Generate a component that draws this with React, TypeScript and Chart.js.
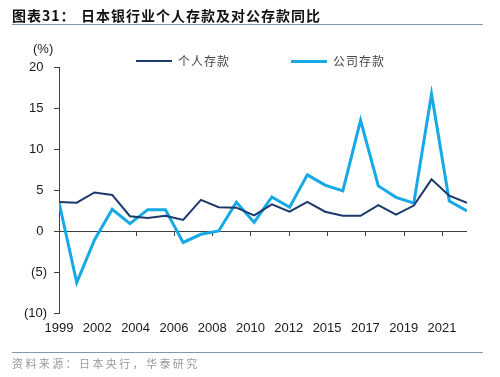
import React, { useEffect, useRef } from "react";
import { Chart, registerables } from "chart.js";

Chart.register(...registerables);

const years = ["1999","2000","2001","2002","2003","2004","2005","2006","2007","2008","2009","2010","2011","2012","2013","2014","2015","2016","2017","2018","2019","2020","2021","2022"];
const personal = [3.55, 3.45, 4.7, 4.4, 1.8, 1.6, 1.85, 1.35, 3.8, 2.9, 2.85, 1.9, 3.25, 2.35, 3.55, 2.35, 1.85, 1.85, 3.15, 2.0, 3.1, 6.3, 4.3, 3.45];
const corporate = [3.5, -6.3, -1.1, 2.65, 0.9, 2.6, 2.6, -1.4, -0.4, 0.0, 3.5, 1.05, 4.15, 2.9, 6.85, 5.6, 4.9, 13.5, 5.5, 4.1, 3.4, 16.7, 3.65, 2.45];
const xTickLabels = ["1999","2002","2004","2006","2008","2010","2012","2015","2017","2019","2021"];
const seriesNames = ["个人存款", "公司存款"];
const colors = ["#1b3a6b", "#15a9e6"];

const TICK_STEP = 2.159;
const AXIS_COLOR = "#404040";

const zeroAxisPlugin = {
  id: "zeroAxis",
  beforeDatasetsDraw(chart: any) {
    const { ctx, chartArea, scales } = chart;
    const y0 = scales.y.getPixelForValue(0);
    ctx.save();
    ctx.strokeStyle = AXIS_COLOR;
    ctx.lineWidth = 1;
    ctx.beginPath();
    ctx.moveTo(chartArea.left, y0 + 0.5);
    ctx.lineTo(chartArea.right, y0 + 0.5);
    scales.x.ticks.forEach((t: any) => {
      const px = Math.round(scales.x.getPixelForValue(t.value)) + 0.5;
      ctx.moveTo(px, y0);
      ctx.lineTo(px, y0 + 5);
    });
    ctx.stroke();
    ctx.restore();
  },
};

function ChartCanvas() {
  const ref = useRef<HTMLCanvasElement | null>(null);
  useEffect(() => {
    if (!ref.current) return;
    const chart = new Chart(ref.current, {
      type: "line",
      data: {
        labels: years,
        datasets: [
          {
            label: seriesNames[0],
            data: personal.map((v, i) => ({ x: i, y: v })),
            borderColor: colors[0],
            backgroundColor: colors[0],
            borderWidth: 2,
            pointRadius: 0,
            tension: 0,
          },
          {
            label: seriesNames[1],
            data: corporate.map((v, i) => ({ x: i, y: v })),
            borderColor: colors[1],
            backgroundColor: colors[1],
            borderWidth: 3,
            pointRadius: 0,
            tension: 0,
          },
        ],
      },
      options: {
        responsive: false,
        animation: false,
        devicePixelRatio: 1,
        layout: { padding: { left: 0, right: 33, top: 67, bottom: 40 } },
        plugins: { legend: { display: false }, tooltip: { enabled: false }, title: { display: false } },
        scales: {
          x: {
            type: "linear",
            min: 0,
            max: years.length - 1,
            grid: { display: false, drawTicks: false, tickLength: 0 },
            border: { display: false },
            afterBuildTicks: (scale: any) => {
              scale.ticks = xTickLabels.map((_, i) => ({ value: i * TICK_STEP }));
            },
            afterFit: (scale: any) => { scale.height = 24; },
            ticks: {
              autoSkip: false,
              maxRotation: 0,
              padding: 8,
              color: "#1a1a1a",
              font: { family: "'Liberation Sans', Arial, sans-serif", size: 13 },
              callback: (_v: any, i: number) => xTickLabels[i],
            },
          },
          y: {
            min: -10,
            max: 20,
            afterFit: (scale: any) => { scale.width = 59; },
            grid: { display: true, drawOnChartArea: false, drawTicks: true, tickLength: 5, color: AXIS_COLOR },
            border: { display: true, color: AXIS_COLOR, width: 1 },
            ticks: {
              stepSize: 5,
              padding: 7,
              color: "#1a1a1a",
              font: { family: "'Liberation Sans', Arial, sans-serif", size: 13 },
              callback: (v: any) => (v < 0 ? `(${-v})` : `${v} `),
            },
          },
        },
      },
      plugins: [zeroAxisPlugin],
    } as any);
    return () => chart.destroy();
  }, []);
  return <canvas ref={ref} width={500} height={377} style={{ position: "absolute", left: 0, top: 0 }} />;
}

export default function App() {
  const cjk = "'Noto Sans CJK SC', 'Noto Sans', sans-serif";
  return (
    <div style={{ position: "absolute", left: 0, top: 0, width: 500, height: 377, background: "#fff", overflow: "hidden" }}>
      <ChartCanvas />
      <div style={{ position: "absolute", left: 12, top: 6, fontFamily: cjk, fontWeight: 700, fontSize: 14, lineHeight: "18px", color: "#111", letterSpacing: 1, whiteSpace: "nowrap" }}>图表31：</div>
      <div style={{ position: "absolute", left: 81, top: 6, fontFamily: cjk, fontWeight: 700, fontSize: 14, lineHeight: "18px", color: "#111", letterSpacing: 1, whiteSpace: "nowrap" }}>日本银行业个人存款及对公存款同比</div>
      <div style={{ position: "absolute", left: 12, top: 24, width: 471, height: 0, borderTop: "1.5px solid #8497b0" }} />
      <div style={{ position: "absolute", left: 33, top: 41, fontFamily: "'Liberation Sans', Arial, sans-serif", fontSize: 13, lineHeight: "16px", color: "#1a1a1a" }}>(%)</div>
      <div style={{ position: "absolute", left: 136, top: 60, width: 36, height: 2, background: colors[0] }} />
      <div style={{ position: "absolute", left: 178, top: 52, fontFamily: cjk, fontSize: 12, lineHeight: "18px", color: "#444", letterSpacing: 1, whiteSpace: "nowrap" }}>{seriesNames[0]}</div>
      <div style={{ position: "absolute", left: 291, top: 59.5, width: 36, height: 3, background: colors[1] }} />
      <div style={{ position: "absolute", left: 333, top: 52, fontFamily: cjk, fontSize: 12, lineHeight: "18px", color: "#444", letterSpacing: 1, whiteSpace: "nowrap" }}>{seriesNames[1]}</div>
      <div style={{ position: "absolute", left: 12, top: 352, width: 471, height: 0, borderTop: "1px solid #8497b0" }} />
      <div style={{ position: "absolute", left: 12, top: 355, fontFamily: cjk, fontSize: 11, lineHeight: "16px", color: "#999", letterSpacing: 2.4, whiteSpace: "nowrap" }}>资料来源：日本央行，华泰研究</div>
    </div>
  );
}
